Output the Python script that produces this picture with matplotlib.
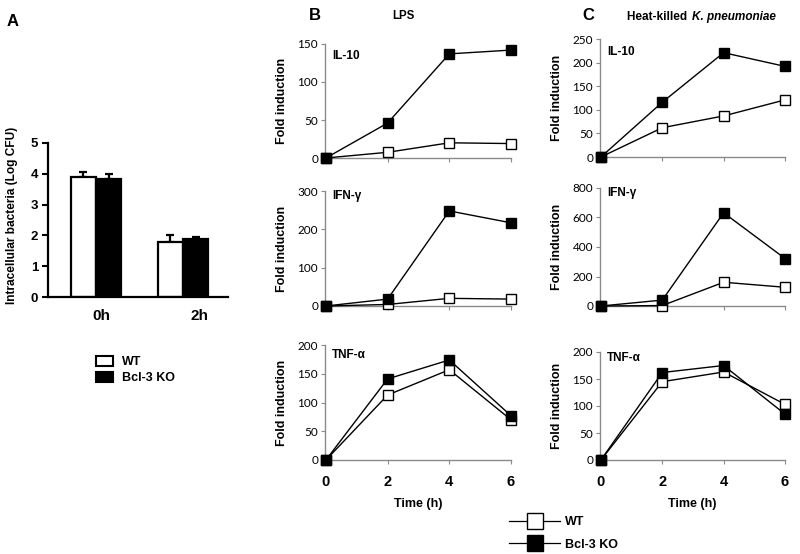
import matplotlib
matplotlib.use('Agg')
import matplotlib.pyplot as plt
from matplotlib.lines import Line2D
from matplotlib.patches import Patch

# ---------------- data ----------------
groups = ['0h', '2h']
wt_cfu = [3.88, 1.78]
wt_err = [0.18, 0.23]
ko_cfu = [3.83, 1.88]
ko_err = [0.17, 0.08]

time_h = [0, 2, 4, 6]
time_labels = ['0', '2', '4', '6']

lps_il10_wt = [0, 7.5, 20, 19]
lps_il10_ko = [0, 46, 137, 142]
lps_ifng_wt = [0, 4, 20, 18]
lps_ifng_ko = [0, 18, 248, 217]
lps_tnfa_wt = [0, 113, 157, 70]
lps_tnfa_ko = [0, 141, 174, 77]

hk_il10_wt = [0, 62, 87, 121]
hk_il10_ko = [0, 116, 221, 192]
hk_ifng_wt = [0, 3, 161, 127]
hk_ifng_ko = [0, 40, 632, 322]
hk_tnfa_wt = [0, 145, 163, 103]
hk_tnfa_ko = [0, 162, 175, 85]

# ---------------- setup ----------------
plt.rcParams['font.family'] = ['Lato', 'DejaVu Sans']
W, H = 800, 554
fig = plt.figure(figsize=(8, 5.54), dpi=100)
BOLD = ['Liberation Sans', 'DejaVu Sans']
GRAY = '#8a8a8a'


def ax_px(l, t, r, b):
    return fig.add_axes([l / W, 1 - b / H, (r - l) / W, (b - t) / H])


# ---------------- panel A ----------------
axA = ax_px(48, 143, 228, 297)
bw = 0.29
xs = list(range(len(groups)))
axA.bar([x - bw / 2 for x in xs], wt_cfu, bw, color='white', edgecolor='black', linewidth=1.6, zorder=2)
axA.bar([x + bw / 2 for x in xs], ko_cfu, bw, color='black', edgecolor='black', linewidth=1.6, zorder=2)
axA.errorbar([x - bw / 2 for x in xs], wt_cfu, yerr=[[0] * 2, wt_err], fmt='none', ecolor='black',
             elinewidth=1.6, capsize=3, capthick=1.6, zorder=1)
axA.errorbar([x + bw / 2 for x in xs], ko_cfu, yerr=[[0] * 2, ko_err], fmt='none', ecolor='black',
             elinewidth=1.6, capsize=3, capthick=1.6, zorder=1)
axA.set_xlim(-0.552, 1.517)
axA.set_ylim(0, 5)
axA.set_yticks(range(0, 6))
axA.set_xticks([xs[0] + 0.06, xs[1] + 0.19])
axA.set_xticklabels(groups, fontsize=11, fontweight='bold', family=BOLD)
for lbl in axA.get_yticklabels():
    lbl.set_fontfamily(BOLD)
    lbl.set_fontweight('bold')
    lbl.set_fontsize(9.5)
axA.tick_params(axis='x', length=0, pad=9)
axA.tick_params(axis='y', direction='out', length=4, width=1.5, pad=3)
for s in ['top', 'right']:
    axA.spines[s].set_visible(False)
for s in ['left', 'bottom']:
    axA.spines[s].set_linewidth(1.6)
axA.set_ylabel('Intracellular bacteria (Log CFU)', fontsize=8.6, fontweight='bold', family=BOLD)
axA.yaxis.set_label_coords((18 - 48) / 180, 0.53)

legA = fig.legend(handles=[Patch(facecolor='white', edgecolor='black', linewidth=1.5, label='WT'),
                           Patch(facecolor='black', edgecolor='black', linewidth=1.5, label='Bcl-3 KO')],
                  loc='upper left', bbox_to_anchor=(96 / W, 1 - 356 / H), frameon=False,
                  prop={'family': BOLD, 'weight': 'bold', 'size': 9},
                  handlelength=1.35, handleheight=0.85, handletextpad=0.7, labelspacing=0.3,
                  borderpad=0, borderaxespad=0)

# ---------------- panels B and C ----------------
panels = [
    # (l, t, r, b, wt, ko, ymax, step, name, label_y_frac, bottom)
    (325, 44, 511, 158, lps_il10_wt, lps_il10_ko, 150, 50, 'IL-10', 0.895, False),
    (325, 191, 511, 306, lps_ifng_wt, lps_ifng_ko, 300, 100, 'IFN-γ', 0.955, False),
    (325, 345, 511, 460, lps_tnfa_wt, lps_tnfa_ko, 200, 50, 'TNF-α', 0.913, True),
    (600, 39, 785, 157, hk_il10_wt, hk_il10_ko, 250, 50, 'IL-10', 0.89, False),
    (600, 188, 785, 306, hk_ifng_wt, hk_ifng_ko, 800, 200, 'IFN-γ', 0.955, False),
    (600, 352, 785, 460, hk_tnfa_wt, hk_tnfa_ko, 200, 50, 'TNF-α', 0.944, True),
]

for (l, t, r, b, wt, ko, ymax, step, name, ly, bottom) in panels:
    ax = ax_px(l, t, r, b)
    ax.plot(time_h, wt, '-s', color='black', mfc='white', mec='black', ms=7.5, mew=1.0,
            lw=1.0, clip_on=False, zorder=3)
    ax.plot(time_h, ko, '-s', color='black', mfc='black', mec='black', ms=7.5, mew=1.0,
            lw=1.0, clip_on=False, zorder=4)
    ax.set_xlim(-0.03, 6)
    ax.set_ylim(0, ymax)
    ax.set_yticks(range(0, ymax + 1, step))
    ax.set_xticks(time_h)
    for s in ['top', 'right']:
        ax.spines[s].set_visible(False)
    for s in ['left', 'bottom']:
        ax.spines[s].set_color(GRAY)
        ax.spines[s].set_linewidth(1.0)
    ax.tick_params(axis='y', direction='out', length=3, width=0.8, color=GRAY, labelsize=8.5, pad=2)
    ax.tick_params(axis='x', direction='out', length=3, width=0.8, color=GRAY, pad=8)
    if bottom:
        ax.set_xticklabels(time_labels, fontsize=10.5, fontweight='bold', family=BOLD)
        ax.set_xlabel('Time (h)', fontsize=9, fontweight='bold', family=BOLD, labelpad=6)
    else:
        ax.tick_params(axis='x', labelbottom=False)
    ax.set_ylabel('Fold induction', fontsize=9, fontweight='bold', family=BOLD)
    ax.yaxis.set_label_coords(-0.2, 0.5)
    ax.text(0.038, ly, name, transform=ax.transAxes, fontsize=8.5, fontweight='bold',
            family=BOLD, ha='left', va='center')

# ---------------- titles and panel letters ----------------
fig.text(7 / W, 1 - 22 / H, 'A', fontsize=12, fontweight='bold', family=BOLD, va='center')
fig.text(309 / W, 1 - 15 / H, 'B', fontsize=12, fontweight='bold', family=BOLD, va='center')
fig.text(582 / W, 1 - 15 / H, 'C', fontsize=12, fontweight='bold', family=BOLD, va='center')
fig.text(403 / W, 1 - 16 / H, 'LPS', fontsize=8.3, fontweight='bold', family=BOLD, ha='center', va='center')
fig.text(690 / W, 1 - 17 / H, 'Heat-killed ', fontsize=8.5, fontweight='bold', family=BOLD,
         ha='right', va='center')
fig.text(692 / W, 1 - 17 / H, 'K. pneumoniae', fontsize=8.5, fontweight='bold', style='italic',
         family=BOLD, ha='left', va='center')

# ---------------- bottom legend ----------------
legB = fig.legend(handles=[Line2D([0], [0], color='black', lw=0.9, marker='s', ms=11, mfc='white',
                                  mec='black', mew=1.0, label='WT'),
                           Line2D([0], [0], color='black', lw=0.9, marker='s', ms=11, mfc='black',
                                  mec='black', mew=1.0, label='Bcl-3 KO')],
                  loc='upper left', bbox_to_anchor=(509 / W, 1 - 516 / H), frameon=False,
                  prop={'family': BOLD, 'weight': 'bold', 'size': 9},
                  handlelength=4.1, handletextpad=0.4, labelspacing=0.85,
                  borderpad=0, borderaxespad=0)

fig.savefig('out.png', dpi=100)
